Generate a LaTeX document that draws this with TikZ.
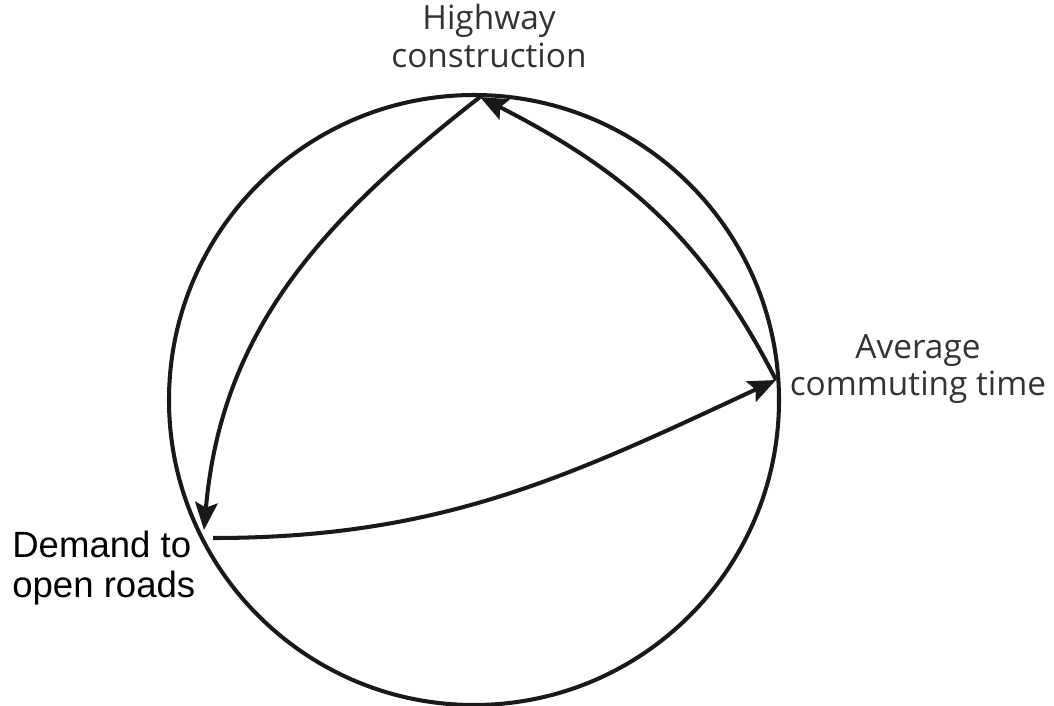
\documentclass[tikz,border=0pt]{standalone}
\usepackage{fontspec}
\usepackage{tikz}
\usetikzlibrary{arrows.meta}
\newfontfamily\labfont{Open Sans}
\newfontfamily\demfont{Liberation Sans}
\definecolor{labgray}{HTML}{333333}
\tikzset{
  loopline/.style={line width=2.3pt,black!90},
  looparrow/.style={loopline,-{Stealth[length=5.5mm,width=4.5mm,inset=1mm]}},
  looplabel/.style={font=\labfont\fontsize{19}{21.5}\selectfont,text=labgray,align=center,inner sep=0pt}
}
\begin{document}
\begin{tikzpicture}
  \useasboundingbox (0,0) rectangle (21.08,14.10);
  \coordinate (c) at (9.48,6.10);
  \draw[loopline] (c) circle (6.10cm);
  \coordinate (h) at (9.60,12.16);
  \coordinate (a) at (15.52,6.50);
  \coordinate (d) at (4.08,3.50);
  \coordinate (d2) at (4.26,3.34);
  \node[looplabel] (hlab) at (9.78,13.38) {Highway\\construction};
  \node[looplabel] (alab) at (18.36,6.72) {Average\\commuting time};
  \node[font=\demfont\fontsize{20.8}{23}\selectfont,align=left,anchor=west,inner sep=0pt] (dlab) at (0.24,2.74) {Demand to\\open roads};
  \draw[looparrow] (a) to[out=117,in=-27] (h);
  \draw[looparrow] (h) to[out=218,in=85] (d);
  \draw[looparrow] (d2) to[out=0,in=205] (a);
\end{tikzpicture}
\end{document}
